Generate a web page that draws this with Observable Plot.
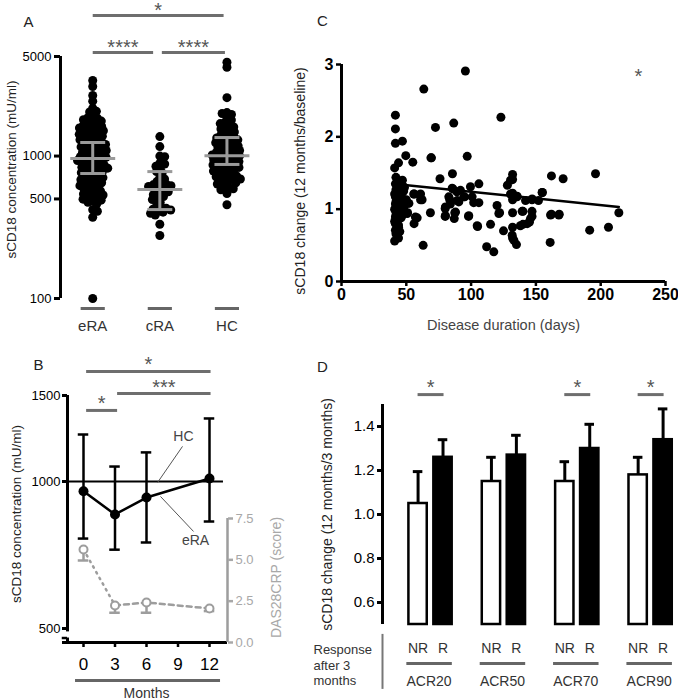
<!DOCTYPE html>
<html><head><meta charset="utf-8">
<script src="https://cdn.jsdelivr.net/npm/d3@7"></script>
<script src="https://cdn.jsdelivr.net/npm/@observablehq/plot@0.6"></script>
<style>
html,body{margin:0;padding:0;background:#fff;}
#wrap{position:relative;width:678px;height:700px;overflow:hidden;background:#fff;}
#wrap > svg{position:absolute;left:0;top:0;}
</style></head><body><div id="wrap"></div>
<script>
// ---------- Panel A data ----------
const catsA = ["eRA", "cRA", "HC"];
const eraA = [3390, 3080, 2660, 2430, 2170, 2060, 2040,
  1890, 1860, 1845, 1800, 1760, 1730, 1700, 1680, 1650, 1620, 1600, 1575, 1550, 1530, 1505, 1480, 1460, 1440, 1420, 1400, 1380, 1360, 1340, 1320, 1300, 1280, 1262,
  1240, 1225, 1205, 1190, 1175, 1160, 1140, 1125, 1110, 1095, 1080, 1065, 1050, 1035, 1020, 1005, 992, 980, 968, 955, 943, 930, 918, 905, 893, 880, 868, 856, 845, 834, 822, 810, 798, 786, 775, 765,
  752, 740, 728, 716, 705, 694, 682, 670, 660, 650, 640, 630, 620, 610, 600, 590, 580, 570, 560, 551, 542, 533, 524, 515, 506, 498, 490, 482, 474,
  460, 420, 410, 372, 100];
const craA = [1370, 1165, 1000, 990, 890, 880, 848, 818, 778, 760, 705, 690, 662, 645, 634, 628, 620, 612, 600, 588, 575, 562, 548, 535, 520, 508, 495, 472, 447, 436, 430, 424, 418, 410, 404, 396, 385, 332, 277];
const hcA = [4560, 4200, 2570,
  2020, 1990, 1960, 1850, 1790, 1720, 1690, 1660, 1600, 1575, 1550, 1500, 1475, 1450, 1400, 1380, 1360, 1340, 1320, 1300,
  1280, 1260, 1240, 1220, 1200, 1180, 1162, 1145, 1128, 1110, 1094, 1078, 1062, 1047, 1032, 1018, 1004, 990, 977, 964, 951, 938, 926, 914, 902, 890, 878, 866, 855, 844, 832, 820, 808, 796, 784, 772, 760,
  745, 730, 725, 715, 700, 690, 684, 668, 652, 650, 636, 620, 604, 590, 580, 545, 455];
const medianA = [961, 582, 1004];
const lowerA = [754, 421, 873];
const upperA = [1245, 778, 1349];
const yTicksA = [100, 500, 1000, 5000];
const sigLabelA = ["****", "****", "*"];
const sigFromA = [0, 1.03, 0];
const sigToA = [0.9, 1.97, 1.95];
const sigLevelA = [5330, 5330, 9700];

// ---------- Panel B data ----------
const monthsB = [0, 3, 6, 12];
const meanB = [955, 856, 927, 1014];
const lowB = [764, 725, 750, 828];
const highB = [1248, 1073, 1147, 1346];
const hcLevelB = 1000;
const dasMeanB = [5.63, 2.24, 2.42, 2.06];
const dasLowB = [4.96, 1.8, 1.8, 1.9];
const xTicksB = [0, 3, 6, 9, 12];
const yTicksB = [500, 1000, 1500];
const dasTicksB = [0, 2.5, 5, 7.5];
const sigLabelB = ["*", "***", "*"];
const sigFromB = [0.25, 3.2, 0.25];
const sigToB = [12.1, 12.1, 3.2];
const sigLevelB = [1680, 1514, 1398];

// ---------- Panel C data: [disease duration (days), sCD18 change] ----------
const pointsC = [[95.6,2.91],[63.5,2.66],[41.6,2.30],[41.6,2.11],[41.6,1.91],[47,1.94],[72.5,2.13],[86.6,2.19],[123,2.27],
  [49.6,1.74],[55,1.65],[44,1.64],[41,1.57],[69,1.71],[97,1.73],[42,1.44],[76,1.42],[85.6,1.49],[132,1.48],[162,1.46],[171,1.42],[196,1.49],
  [132,1.41],[128,1.33],[47,1.40],[47.6,1.31],[41.6,1.35],[86,1.28],[99.5,1.31],[106,1.35],[155,1.23],[89,1.24],[95,1.17],[132,1.22],[135.5,1.18],
  [56,1.21],[61,1.21],[61,1.13],[83.5,1.13],[90.5,1.10],[100.8,1.17],[102,1.09],[106,1.09],[132,1.13],[142,1.12],[147,1.13],[152,1.12],[120,1.05],
  [80,1.01],[84,1.07],[122,0.95],[132,0.95],[140,0.97],[147,0.97],[68.6,0.95],[87.4,0.95],[51,0.95],[49,1.07],[45.5,1.12],[41.6,1.17],[41.6,1.07],
  [41.6,0.98],[41.6,0.89],[41.6,0.80],[44,0.75],[41.6,0.71],[44,0.60],[41,0.56],[58.4,0.88],[56,0.80],[80,0.90],[87,0.87],[98,0.90],[105,0.76],
  [115,0.79],[125,0.70],[132,0.75],[132,0.60],[135,0.51],[140,0.79],[145,0.82],[147,0.90],[162,0.93],[168,0.93],[191.5,0.71],[206,0.75],[214,0.95],
  [112,0.48],[117.5,0.41],[63,0.50],[161,0.54],
  [42,1.27],[43,1.24],[41,1.21],[44,1.15],[42,1.10],[43,1.03],[41,1.00],[44,0.94],[42,0.92],[43,0.85],[41,0.83],[44,0.78],[42,0.66],[43,0.63],
  [45,0.69],[46,0.99],[47,1.15],[48,1.25],[45,1.30],[46,0.88],[48,1.02],[50,1.13],[52,1.08],[47,0.92],
  [130.4,1.40],[130.4,1.21],[135.5,1.17],[147.1,1.14],[121.4,0.94],[139.4,0.97],[145.8,0.87],[143.3,0.80],[138,0.77],[131.7,0.64],[133,0.57],
  [48.6,1.30],[55.8,1.21],[62.2,1.13],[47.8,1.08],[50.7,0.94],[57,0.89],[69.4,1.71],[85.4,1.29],[91.8,1.26],[82.8,1.17],[89.3,1.12],[94.4,1.17],
  [80.2,1.03],[80.2,0.91],[88,0.96],[98.2,0.91],[104.7,0.77],[154.8,1.23],[161.3,0.92],[167.7,0.92]];
const fitDaysC = [43, 214];
const fitChangeC = [1.345, 1.03];
const xTicksC = [0, 50, 100, 150, 200, 250];
const yTicksC = [0, 1, 2, 3];

// ---------- Panel D data ----------
const groupsD = ["ACR20", "ACR50", "ACR70", "ACR90"];
const nrD = [1.05, 1.15, 1.15, 1.18];
const nrErrD = [1.195, 1.26, 1.24, 1.26];
const rD = [1.26, 1.27, 1.30, 1.34];
const rErrD = [1.34, 1.36, 1.41, 1.48];
const sigD = ["*", "", "*", "*"];
const yTicksD = [0.6, 0.8, 1.0, 1.2, 1.4];

// ---------- common ----------
const W = 678, H = 700;
const FONT = "Liberation Sans, Arial, Helvetica, sans-serif";
const wrap = document.getElementById("wrap");
const base = {width: W, height: H, style: {background: "transparent", overflow: "visible", fontFamily: FONT, color: "#000", fontSize: "13px"}};
function add(opts) { wrap.appendChild(Plot.plot(Object.assign({}, base, opts))); }
const SIG = "#6e6e6e", STAR = "#555";
const MID = {textAnchor: "middle", lineAnchor: "middle"};

// simple beeswarm (pixel collision) -> offsets
function swarm(values, py, dmin) {
  const order = values.map((v, i) => i).sort((a, b) => py(values[a]) - py(values[b]));
  const placed = [], out = new Array(values.length);
  let flip = 1;
  for (const i of order) {
    const y = py(values[i]);
    const iv = [];
    for (const p of placed) {
      const dy = Math.abs(p.y - y);
      if (dy < dmin) { const dx = Math.sqrt(dmin * dmin - dy * dy); iv.push([p.x - dx, p.x + dx]); }
    }
    const cands = [0];
    for (const [a, b] of iv) cands.push(a, b);
    cands.sort((a, b) => (Math.abs(a) - Math.abs(b)) || (flip * (a - b)));
    let x = 0;
    for (const c of cands) { if (iv.every(([a, b]) => c <= a + 1e-6 || c >= b - 1e-6)) { x = c; break; } }
    flip = -flip;
    placed.push({x, y}); out[i] = x;
  }
  return out;
}

// ---------- Panel A ----------
{
  const mL = 60, mR = 418, mT = 56, mB = 402;
  const xDom = [-0.48, 2.5], yDom = [100, 5000];
  const pxPerUnit = (W - mR - mL) / (xDom[1] - xDom[0]);
  const py = d3.scaleLog().domain(yDom).range([H - mB, mT]);
  const series = [eraA, craA, hcA];
  const dots = [];
  series.forEach((vals, g) => {
    const offs = swarm(vals, py, 4.9);
    vals.forEach((v, j) => dots.push({x: g + offs[j] / pxPerUnit, v}));
  });
  const stats = catsA.map((c, g) => ({g, med: medianA[g], lo: lowerA[g], hi: upperA[g]}));
  const sig = sigLabelA.map((l, i) => ({l, x1: sigFromA[i], x2: sigToA[i], y: sigLevelA[i]}));
  add({
    marginLeft: mL, marginRight: mR, marginTop: mT, marginBottom: mB,
    x: {domain: xDom, axis: null},
    y: {type: "log", domain: yDom},
    marks: [
      Plot.ruleX([xDom[0]], {y1: yDom[0], y2: yDom[1], strokeWidth: 3}),
      Plot.axisY({ticks: yTicksA, tickFormat: d => String(d), tickSize: 6, tickPadding: 3, strokeWidth: 3, fontSize: 13, label: null}),
      Plot.dot(dots, {x: "x", y: "v", r: 4.5, fill: "#000"}),
      Plot.ruleX(stats, {x: "g", y1: "lo", y2: "hi", stroke: "#9a9a9a", strokeWidth: 3}),
      Plot.link(stats, {x1: d => d.g - 0.335, x2: d => d.g + 0.335, y1: "med", y2: "med", stroke: "#9a9a9a", strokeWidth: 3}),
      Plot.link(stats, {x1: d => d.g - 0.186, x2: d => d.g + 0.186, y1: "lo", y2: "lo", stroke: "#9a9a9a", strokeWidth: 3}),
      Plot.link(stats, {x1: d => d.g - 0.186, x2: d => d.g + 0.186, y1: "hi", y2: "hi", stroke: "#9a9a9a", strokeWidth: 3}),
      Plot.link(stats, {x1: d => d.g - 0.18, x2: d => d.g + 0.18, y1: () => yDom[0], y2: () => yDom[0], dy: 10, stroke: "#666", strokeWidth: 3}),
      Plot.text(catsA, {x: (d, i) => i, frameAnchor: "bottom", dy: 28, fontSize: 15, fill: "#333", ...MID}),
      Plot.link(sig, {x1: "x1", x2: "x2", y1: "y", y2: "y", stroke: SIG, strokeWidth: 3}),
      Plot.text(sig, {x: d => (d.x1 + d.x2) / 2, y: "y", text: "l", textAnchor: "middle", lineAnchor: "bottom", dy: 1, fontSize: 20, fill: STAR}),
      Plot.text(["sCD18 concentration (mU/ml)"], {frameAnchor: "left", rotate: -90, dx: -49, dy: -8, fontSize: 13.5, fill: "#222", ...MID}),
      Plot.text(["A"], {frameAnchor: "top-left", dx: -32, dy: -34, fontSize: 15, fill: "#222", ...MID})
    ]
  });
}

// ---------- Panel C ----------
{
  const mL = 341, mR = 13, mT = 64, mB = 419;
  const pts = pointsC.map(([d, v]) => ({d, v}));
  const fit = fitDaysC.map((d, i) => ({d, v: fitChangeC[i]}));
  add({
    marginLeft: mL, marginRight: mR, marginTop: mT, marginBottom: mB,
    style: Object.assign({}, base.style, {fontWeight: "bold"}),
    x: {domain: [0, 250]},
    y: {domain: [0, 3]},
    marks: [
      Plot.ruleX([0], {strokeWidth: 3}),
      Plot.ruleY([0], {strokeWidth: 3}),
      Plot.axisX({ticks: xTicksC, tickFormat: d => String(d), tickSize: 5, tickPadding: 2, strokeWidth: 2.5, fontSize: 16, fontWeight: "bold", label: null}),
      Plot.axisY({ticks: yTicksC, tickFormat: d => String(d), tickSize: 5, tickPadding: 3, strokeWidth: 2.5, fontSize: 16, fontWeight: "bold", label: null}),
      Plot.dot(pts, {x: "d", y: "v", r: 4.5, fill: "#000"}),
      Plot.line(fit, {x: "d", y: "v", strokeWidth: 2.5}),
      Plot.text(["*"], {frameAnchor: "top-right", dx: -27, dy: 18.5, textAnchor: "middle", lineAnchor: "bottom", fontSize: 20, fill: STAR, fontWeight: "normal"}),
      Plot.text(["Disease duration (days)"], {frameAnchor: "bottom", dy: 44, fontSize: 14.5, fill: "#444", fontWeight: "normal", ...MID}),
      Plot.text(["sCD18 change (12 months/baseline)"], {frameAnchor: "left", rotate: -90, dx: -41, dy: 8, fontSize: 14, fill: "#222", fontWeight: "normal", ...MID}),
      Plot.text(["C"], {frameAnchor: "top-left", dx: -19, dy: -43, fontSize: 15, fill: "#222", fontWeight: "normal", ...MID})
    ]
  });
}

// ---------- Panel B ----------
{
  const mL = 67, mR = 451, mT = 395, mB = 58;
  const xDom = [-1.524, 13.714], yDom = [468, 1500];
  const rows = monthsB.map((m, i) => ({m, mean: meanB[i], lo: lowB[i], hi: highB[i]}));
  const sig = sigLabelB.map((l, i) => ({l, x1: sigFromB[i], x2: sigToB[i], y: sigLevelB[i]}));
  const notes = [{t: "HC", x: 9.52, y: 1236, x1: 9.43, y1: 1180, x2: 7.05, y2: 995},
                 {t: "eRA", x: 10.67, y: 757, x1: 10.48, y1: 790, x2: 7.33, y2: 932}];
  add({
    marginLeft: mL, marginRight: mR, marginTop: mT, marginBottom: mB,
    x: {domain: xDom},
    y: {type: "log", domain: yDom},
    marks: [
      Plot.ruleX([xDom[0]], {y1: yDom[1], y2: 492, strokeWidth: 3}),
      Plot.ruleX([xDom[0]], {y1: 478, y2: yDom[0], strokeWidth: 3}),
      Plot.ruleY([478], {x1: xDom[0] - 0.5, x2: xDom[0], strokeWidth: 2.5}),
      Plot.ruleY([yDom[0]], {x1: -2.0, x2: xDom[1], strokeWidth: 3}),
      Plot.axisY({ticks: yTicksB, tickFormat: d => String(d), tickSize: 5, tickPadding: 2, strokeWidth: 3, fontSize: 13, label: null}),
      Plot.axisX({ticks: xTicksB, tickFormat: d => String(d), tickSize: 5, tickPadding: 10, strokeWidth: 2.5, fontSize: 17, label: null}),
      Plot.ruleY([yDom[0]], {x1: -0.76, x2: 13.05, dy: 38, stroke: "#666", strokeWidth: 3}),
      Plot.text(["Months"], {x: 6, frameAnchor: "bottom", dy: 51, fontSize: 14, fill: "#333", ...MID}),
      Plot.ruleY([hcLevelB], {x1: xDom[0], x2: 13.33, strokeWidth: 2}),
      Plot.ruleX(rows, {x: "m", y1: "lo", y2: "hi", strokeWidth: 2.5}),
      Plot.ruleY(rows, {y: "lo", x1: d => d.m - 0.5, x2: d => d.m + 0.5, strokeWidth: 2.5}),
      Plot.ruleY(rows, {y: "hi", x1: d => d.m - 0.5, x2: d => d.m + 0.5, strokeWidth: 2.5}),
      Plot.line(rows, {x: "m", y: "mean", strokeWidth: 2.5}),
      Plot.dot(rows, {x: "m", y: "mean", r: 5, fill: "#000"}),
      Plot.link(notes, {x1: "x1", y1: "y1", x2: "x2", y2: "y2", stroke: "#555", strokeWidth: 1}),
      Plot.text(notes, {x: "x", y: "y", text: "t", fontSize: 14, fill: "#444", ...MID}),
      Plot.link(sig, {x1: "x1", x2: "x2", y1: "y", y2: "y", stroke: SIG, strokeWidth: 3}),
      Plot.text(sig, {x: d => (d.x1 + d.x2) / 2, y: "y", text: "l", textAnchor: "middle", lineAnchor: "bottom", fontSize: 20, fill: STAR}),
      Plot.text(["sCD18 concentration (mU/ml)"], {frameAnchor: "left", rotate: -90, dx: -51, dy: -5, fontSize: 13.5, fill: "#222", ...MID}),
      Plot.text(["B"], {frameAnchor: "top-left", dx: -29, dy: -30, fontSize: 15, fill: "#222", ...MID})
    ]
  });
  // DAS28CRP secondary axis
  const das = monthsB.map((m, i) => ({m, mean: dasMeanB[i], lo: dasLowB[i]}));
  const G = "#9d9d9d";
  add({
    marginLeft: mL, marginRight: mR, marginTop: 518, marginBottom: mB,
    x: {domain: xDom, axis: null},
    y: {domain: [0, 7.5]},
    marks: [
      Plot.ruleX([xDom[1]], {y1: 0, y2: 7.5, stroke: G, strokeWidth: 2.5}),
      Plot.axisY({anchor: "right", ticks: dasTicksB, tickFormat: d => d.toFixed(1), tickSize: 5, tickPadding: 3, strokeWidth: 2.5, color: "#a8a8a8", fontSize: 13, label: null}),
      Plot.line(das.slice(0, 2), {x: "m", y: "mean", stroke: G, strokeWidth: 2.5, strokeDasharray: "1.5,5", strokeLinecap: "round"}),
      Plot.line(das.slice(1), {x: "m", y: "mean", stroke: G, strokeWidth: 2.5, strokeDasharray: "5,4"}),
      Plot.ruleX(das, {x: "m", y1: "lo", y2: "mean", stroke: G, strokeWidth: 2.5}),
      Plot.ruleY(das, {y: "lo", x1: d => d.m - 0.5, x2: d => d.m + 0.5, stroke: G, strokeWidth: 2.5}),
      Plot.dot(das, {x: "m", y: "mean", r: 4, stroke: G, strokeWidth: 2, fill: "#fff"}),
      Plot.text(["DAS28CRP (score)"], {frameAnchor: "right", rotate: -90, dx: 49, dy: -3, fontSize: 14, fill: "#a8a8a8", ...MID})
    ]
  });
}

// ---------- Panel D ----------
{
  const mL = 382, mR = 0, mT = 404, mB = 76;
  const xDom = [-0.655, 3.38], yDom = [0.5, 1.5];
  const bars = [];
  groupsD.forEach((g, i) => {
    bars.push({g: i, k: "NR", v: nrD[i], e: nrErrD[i], o: -0.17, fill: "#fff"});
    bars.push({g: i, k: "R", v: rD[i], e: rErrD[i], o: 0.17, fill: "#000"});
  });
  const sig = sigD.map((l, i) => ({l, g: i})).filter(d => d.l);
  const gi = groupsD.map((d, i) => i);
  add({
    marginLeft: mL, marginRight: mR, marginTop: mT, marginBottom: mB,
    x: {domain: xDom, axis: null},
    y: {domain: yDom},
    marks: [
      Plot.ruleX([xDom[0]], {y1: yDom[0], y2: yDom[1], strokeWidth: 3}),
      Plot.axisY({ticks: yTicksD, tickFormat: d => d.toFixed(1), tickSize: 5, tickPadding: 3, strokeWidth: 3, fontSize: 15, label: null}),
      Plot.ruleX(bars, {x: d => d.g + d.o, y1: "v", y2: "e", strokeWidth: 3}),
      Plot.ruleY(bars, {y: "e", x1: d => d.g + d.o - 0.065, x2: d => d.g + d.o + 0.065, strokeWidth: 3}),
      Plot.rect(bars, {x1: d => d.g + d.o - 0.125, x2: d => d.g + d.o + 0.125, y1: () => yDom[0], y2: "v", fill: "fill", stroke: "#000", strokeWidth: 2.5}),
      Plot.link(sig, {x1: d => d.g - 0.177, x2: d => d.g + 0.177, y1: () => 1.545, y2: () => 1.545, stroke: SIG, strokeWidth: 3}),
      Plot.text(sig, {x: "g", y: () => 1.545, text: "l", textAnchor: "middle", lineAnchor: "bottom", dy: -1, fontSize: 20, fill: STAR}),
      Plot.text(bars, {x: d => d.g + d.o, text: "k", frameAnchor: "bottom", dy: 24, fontSize: 14, fill: "#333", ...MID}),
      Plot.link(gi, {x1: i => i - 0.33, x2: i => i + 0.29, y1: () => yDom[0], y2: () => yDom[0], dy: 39, stroke: "#666", strokeWidth: 3}),
      Plot.text(groupsD, {x: (d, i) => i - 0.02, frameAnchor: "bottom", dy: 57, fontSize: 14, fill: "#333", ...MID}),
      Plot.ruleX([xDom[0]], {y1: 0.455, y2: 0.205, stroke: "#777", strokeWidth: 2}),
      Plot.text(["Response\nafter 3\nmonths"], {frameAnchor: "bottom-left", dx: -69, dy: 40, textAnchor: "start", lineAnchor: "middle", lineHeight: 1.2, fontSize: 13, fill: "#333"}),
      Plot.text(["sCD18 change (12 months/3 months)"], {frameAnchor: "left", rotate: -90, dx: -55, dy: 0, fontSize: 14, fill: "#222", ...MID}),
      Plot.text(["D"], {frameAnchor: "top-left", dx: -60, dy: -37, fontSize: 15, fill: "#222", ...MID})
    ]
  });
}
</script></body></html>
